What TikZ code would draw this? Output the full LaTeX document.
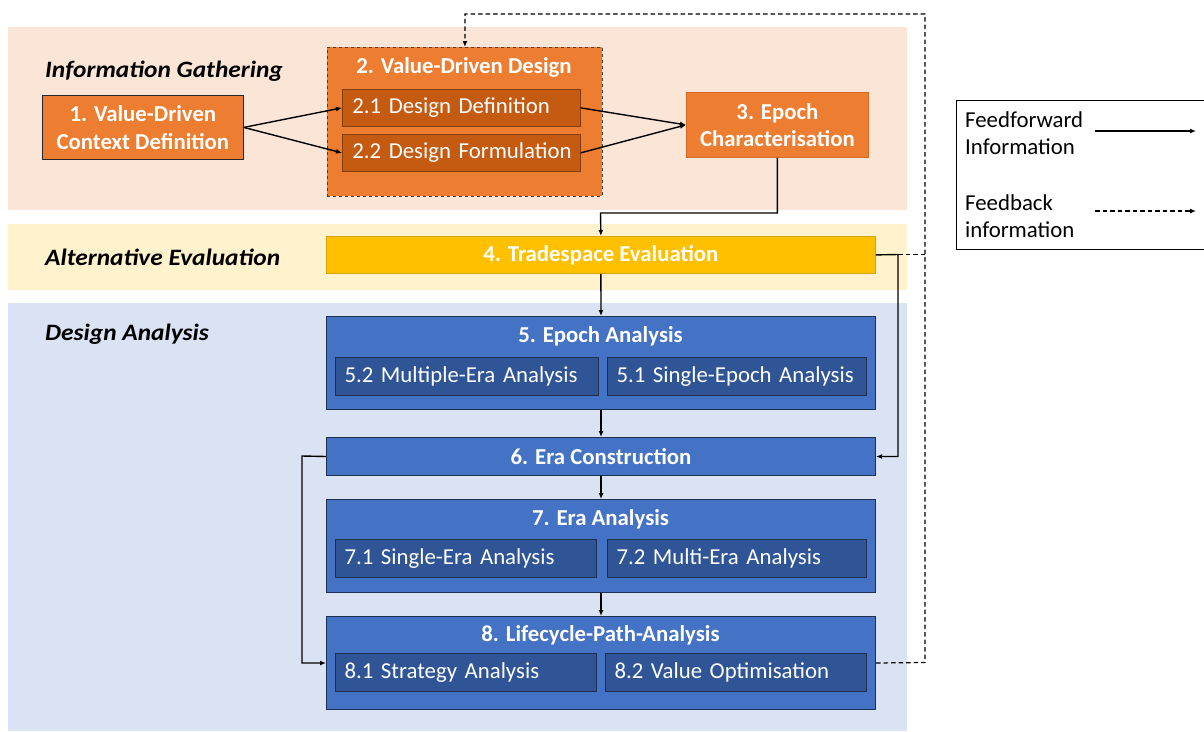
\documentclass[tikz,border=0pt]{standalone}
\usepackage{fontspec}
\setmainfont{Carlito}
\newfontfamily\bandfamily[FakeStretch=1.08]{Carlito}
\usetikzlibrary{arrows.meta,calc}
\definecolor{bandpeach}{HTML}{FBE5D6}
\definecolor{bandcream}{HTML}{FFF2CC}
\definecolor{bandblue}{HTML}{DAE3F3}
\definecolor{orangemain}{HTML}{ED7D31}
\definecolor{orangedark}{HTML}{C55A11}
\definecolor{orangeline}{HTML}{843C0C}
\definecolor{orangeedge}{HTML}{D46A24}
\definecolor{goldmain}{HTML}{FFC000}
\definecolor{goldedge}{HTML}{D9A300}
\definecolor{bluemain}{HTML}{4472C4}
\definecolor{bluedark}{HTML}{2F5597}
\definecolor{blueline}{HTML}{1F2F50}
\newcommand{\boxfont}{\fontsize{22.8}{27.5}\selectfont}
\newcommand{\bandfont}{\bandfamily\fontsize{23.5}{28}\selectfont}
\tikzset{
  bandlabel/.style={anchor=west, font=\bandfont\bfseries\itshape, text=black, inner sep=0pt},
  obox/.style={draw=black!85, fill=orangemain, line width=0.8pt, anchor=north west,
    text=white, font=\boxfont\bfseries, align=center, inner sep=0pt},
  osub/.style={draw=orangeline, fill=orangedark, line width=0.7pt, anchor=north west,
    text=white, font=\boxfont, align=left, inner xsep=10pt, inner ysep=0pt},
  bbox/.style={draw=blueline, fill=bluemain, line width=1pt, anchor=north west,
    minimum width=549pt, inner sep=0pt},
  bsub/.style={draw=blueline, fill=bluedark, line width=1pt, anchor=north west,
    text=white, font=\boxfont, align=left, inner xsep=9pt, inner ysep=0pt,
    minimum height=38pt},
  boxtitle/.style={text=white, font=\boxfont\bfseries, inner sep=0pt},
  arr/.style={draw=black, line width=1.4pt, -{Latex[length=6pt,width=5pt]}},
  fb/.style={draw=black, line width=1.2pt, dash pattern=on 4.5pt off 3pt},
  legtext/.style={anchor=base west, font=\boxfont, inner sep=0pt, text=black}
}
\begin{document}
\begin{tikzpicture}[x=1pt,y=-1pt]
\useasboundingbox (0,0) rectangle (1204,731);

% background bands for the three phases
\fill[bandpeach] (8,27) rectangle (907,210);
\fill[bandcream] (8,224) rectangle (907,290);
\fill[bandblue] (8,303) rectangle (907,731);

\node[bandlabel] (lab1) at (45,71) {Information Gathering};
\node[bandlabel] (lab2) at (45,257) {Alternative Evaluation};
\node[bandlabel] (lab3) at (45,334) {Design Analysis};

% information gathering
\node[obox, minimum width=201pt, minimum height=64pt] (b1) at (42,95)
  {1. Value-Driven\\Context Definition};
\node[obox, draw=black!75, dashed, minimum width=275pt, minimum height=149pt] (b2) at (327,47) {};
\node[boxtitle] (b2t) at (464,67) {2. Value-Driven Design};
\node[osub, text width=218pt, minimum height=37pt] (b21) at (342,89) {\mbox{2.1 Design Definition}};
\node[osub, text width=218pt, minimum height=37pt] (b22) at (342,134) {\mbox{2.2 Design Formulation}};
\node[obox, draw=orangeedge, minimum width=182pt, minimum height=65pt] (b3) at (686,92)
  {3. Epoch\\Characterisation};

% alternative evaluation
\node[obox, draw=goldedge, fill=goldmain, minimum width=549pt, minimum height=37pt] (b4) at (326,236)
  {4. Tradespace Evaluation};

% design analysis
\node[bbox, minimum height=93pt] (b5) at (326,316) {};
\node[boxtitle] (b5t) at (600.5,336) {5. Epoch Analysis};
\node[bsub, text width=245pt] (b52) at (335,357) {\mbox{5.2 Multiple-Era Analysis}};
\node[bsub, text width=241pt] (b51) at (607,357) {\mbox{5.1 Single-Epoch Analysis}};

\node[bbox, minimum height=38pt, text=white, font=\boxfont\bfseries] (b6) at (326,437) {6. Era Construction};

\node[bbox, minimum height=93pt] (b7) at (326,499) {};
\node[boxtitle] (b7t) at (600.5,519) {7. Era Analysis};
\node[bsub, text width=243pt] (b71) at (335,539) {\mbox{7.1 Single-Era Analysis}};
\node[bsub, text width=241pt] (b72) at (607,539) {\mbox{7.2 Multi-Era Analysis}};

\node[bbox, minimum height=93pt] (b8) at (326,616) {};
\node[boxtitle] (b8t) at (600.5,635) {8. Lifecycle-Path-Analysis};
\node[bsub, text width=243pt] (b81) at (335,653) {\mbox{8.1 Strategy Analysis}};
\node[bsub, text width=243pt] (b82) at (605,653) {\mbox{8.2 Value Optimisation}};

% routing points
\coordinate (k34) at (600.5,213);
\coordinate (k4r) at (898,254.5);
\coordinate (k6l) at (302,456);
\coordinate (fbtop) at (925,14);
\coordinate (fbmid) at (925,254.5);
\coordinate (fbbot) at (925,662.5);

% feedback (dashed)
\draw[fb] (k4r) -- (fbmid);
\draw[fb, -{Latex[length=6pt,width=5pt]}] (b8.east) -- (fbbot) -- (fbtop) -| (b2.north);

% feedforward (solid)
\draw[arr] (b1.east) -- (b21.west);
\draw[arr] (b1.east) -- (b22.west);
\draw[arr] (b21.east) -- (b3.west);
\draw[arr] (b22.east) -- (b3.west);
\draw[arr] (b3.south) |- (k34) -- (b4.north);
\draw[arr] (b4.south) -- (b5.north);
\draw[arr] (b4.east) -- (k4r) |- (b6.east);
\draw[arr] (b5.south) -- (b6.north);
\draw[arr] (b6.south) -- (b7.north);
\draw[arr] (b7.south) -- (b8.north);
\draw[arr] (b6.west) -- (k6l) |- (b8.west);

% legend
\node[draw=black, line width=1pt, anchor=north west, minimum width=270pt, minimum height=149pt, inner sep=0pt] (leg) at (956,100) {};
\node[legtext] (lt1) at (965,127.5) {Feedforward};
\node[legtext] (lt1b) at (965,154) {Information};
\node[legtext] (lt2) at (965,210.5) {Feedback};
\node[legtext] (lt2b) at (965,237) {information};
\coordinate (ff0) at (1095,131);
\coordinate (ff1) at (1196,131);
\coordinate (fd0) at (1095,211);
\coordinate (fd1) at (1196,211);
\draw[arr] (ff0) -- (ff1);
\draw[fb, -{Latex[length=6pt,width=5pt]}] (fd0) -- (fd1);
\end{tikzpicture}
\end{document}
